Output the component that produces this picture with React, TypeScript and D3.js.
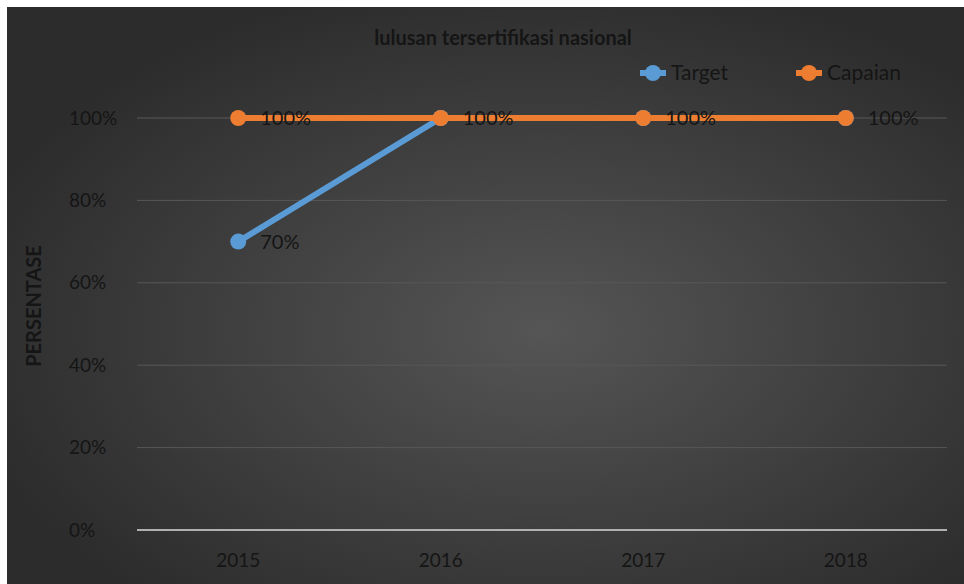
import React from "react";
import * as d3 from "d3";

const categories = ["2015", "2016", "2017", "2018"];
const targetValues = [70, 100, 100, 100];
const capaianValues = [100, 100, 100, 100];
const yTicks = [0, 20, 40, 60, 80, 100];
const seriesNames = ["Target", "Capaian"];
const seriesColors = ["#5B9BD5", "#ED7D31"];

const W = 964;
const H = 584;
const m = { left: 137, right: 947, top: 118, bottom: 530 };

export default function App() {
  const x = d3.scaleBand<string>().domain(categories).range([m.left, m.right]);
  const y = d3.scaleLinear().domain([0, 100]).range([m.bottom, m.top]);
  const cx = (c: string) => (x(c) as number) + x.bandwidth() / 2;
  const line = d3
    .line<number>()
    .x((_, i) => cx(categories[i]))
    .y((d) => y(d));
  const series = [targetValues, capaianValues];
  const font = "Lato, 'Open Sans', sans-serif";
  const textColor = "#151515";

  return (
    <svg
      width={W}
      height={H}
      style={{ position: "absolute", left: 0, top: 0, fontFamily: font }}
    >
      <defs>
        <radialGradient id="bg" cx="56%" cy="56%" r="62%">
          <stop offset="0%" stopColor="#555555" />
          <stop offset="100%" stopColor="#2c2c2c" />
        </radialGradient>
      </defs>
      <rect x={0} y={0} width={W} height={H} fill="#fff" />
      <rect x={7} y={7} width={W - 7} height={H - 7} fill="url(#bg)" />
      <text
        x={503}
        y={45}
        textAnchor="middle"
        fontSize={20}
        fontWeight="bold"
        fill={textColor}
      >
        lulusan tersertifikasi nasional
      </text>
      {yTicks.map((t) =>
        t === 0 ? null : (
          <line
            key={"g" + t}
            x1={m.left}
            x2={m.right}
            y1={y(t)}
            y2={y(t)}
            stroke="#585858"
            strokeWidth={1}
          />
        )
      )}
      <line
        x1={m.left}
        x2={m.right}
        y1={y(0)}
        y2={y(0)}
        stroke="#b0b0b0"
        strokeWidth={2}
      />
      {yTicks.map((t) => (
        <text
          key={"t" + t}
          x={69}
          y={y(t)}
          dy="0.35em"
          textAnchor="start"
          fontSize={19}
          fill={textColor}
        >
          {t + "%"}
        </text>
      ))}
      {categories.map((c) => (
        <text
          key={"c" + c}
          x={cx(c)}
          y={567}
          textAnchor="middle"
          fontSize={19}
          fill={textColor}
        >
          {c}
        </text>
      ))}
      <text
        transform={`translate(41, 306) rotate(-90)`}
        textAnchor="middle"
        fontSize={20}
        fontWeight="bold"
        fill={textColor}
      >
        PERSENTASE
      </text>
      {series.map((vals, si) => (
        <g key={"s" + si}>
          <path
            d={line(vals) || ""}
            fill="none"
            stroke={seriesColors[si]}
            strokeWidth={6}
            strokeLinecap="round"
          />
          {vals.map((v, i) => (
            <circle
              key={i}
              cx={cx(categories[i])}
              cy={y(v)}
              r={8}
              fill={seriesColors[si]}
            />
          ))}
        </g>
      ))}
      {series.map((vals, si) =>
        vals.map((v, i) =>
          si === 0 && v === capaianValues[i] ? null : (
            <text
              key={"l" + si + i}
              x={cx(categories[i]) + 22}
              y={y(v)}
              dy="0.35em"
              fontSize={20}
              fill={textColor}
            >
              {v + "%"}
            </text>
          )
        )
      )}
      {seriesNames.map((n, i) => {
        const lx = [653, 809][i];
        return (
          <g key={"lg" + i}>
            <line
              x1={lx - 13}
              x2={lx + 13}
              y1={73}
              y2={73}
              stroke={seriesColors[i]}
              strokeWidth={6}
            />
            <circle cx={lx} cy={73} r={8} fill={seriesColors[i]} />
            <text x={lx + 18} y={73} dy="0.35em" fontSize={21} fill={textColor}>
              {n}
            </text>
          </g>
        );
      })}
    </svg>
  );
}
